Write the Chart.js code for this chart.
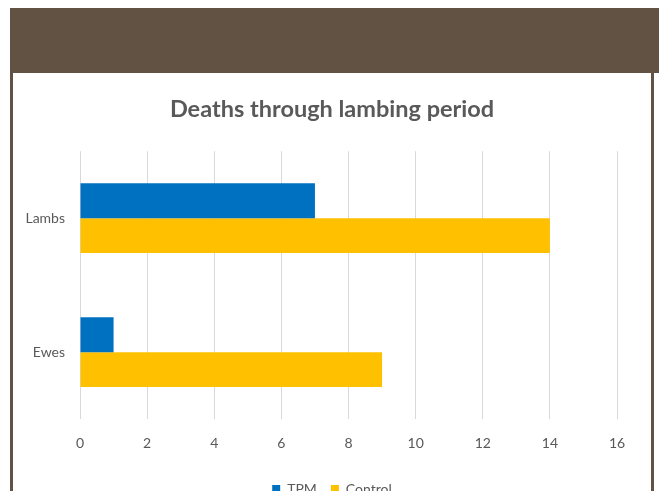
<!DOCTYPE html>
<html><head><meta charset="utf-8">
<script src="https://cdn.jsdelivr.net/npm/chart.js@4"></script>
<style>
html,body{margin:0;padding:0;width:659px;height:491px;overflow:hidden;background:#fff;}
#band{position:absolute;left:10px;top:8px;width:649px;height:65px;background:#625244;}
#lb{position:absolute;left:10px;top:73px;width:3px;height:418px;background:#625244;}
#rb{position:absolute;left:651px;top:73px;width:3px;height:418px;background:#625244;}
#c{position:absolute;left:13px;top:73px;}
</style></head><body>
<div id="band"></div><div id="lb"></div><div id="rb"></div>
<canvas id="c" width="638" height="433"></canvas>
<script>
const categories = ["Lambs", "Ewes"];
const tpmValues = [7, 1];
const controlValues = [14, 9];
const seriesNames = ["TPM", "Control"];
const FONT = "Lato";
new Chart(document.getElementById('c'), {
  type: 'bar',
  data: {
    labels: categories,
    datasets: [
      {label: seriesNames[0], data: tpmValues, backgroundColor: '#0070c0', categoryPercentage: 0.52, barPercentage: 1},
      {label: seriesNames[1], data: controlValues, backgroundColor: '#ffc000', categoryPercentage: 0.52, barPercentage: 1}
    ]
  },
  options: {
    indexAxis: 'y',
    responsive: false,
    devicePixelRatio: 1,
    animation: false,
    layout: {padding: 0},
    plugins: {
      title: {display: true, text: 'Deaths through lambing period', color: '#595959',
        font: {family: FONT, size: 23.5, weight: 'bold'}, padding: {top: 22, bottom: 28}},
      legend: {position: 'bottom', labels: {color: '#595959', font: {family: FONT, size: 14},
        boxWidth: 8, boxHeight: 8, padding: 14}},
      tooltip: {enabled: false}
    },
    scales: {
      x: {min: 0, max: 16, ticks: {stepSize: 2, color: '#595959', font: {family: FONT, size: 14}, padding: 16},
        grid: {color: '#d9d9d9', drawTicks: false}, border: {display: false},
        afterFit: s => { s.paddingRight = 34; }},
      y: {ticks: {color: '#595959', font: {family: FONT, size: 14}, padding: 7},
        grid: {display: false}, border: {display: false},
        afterFit: s => { s.width = 67; }}
    }
  }
});
</script></body></html>
